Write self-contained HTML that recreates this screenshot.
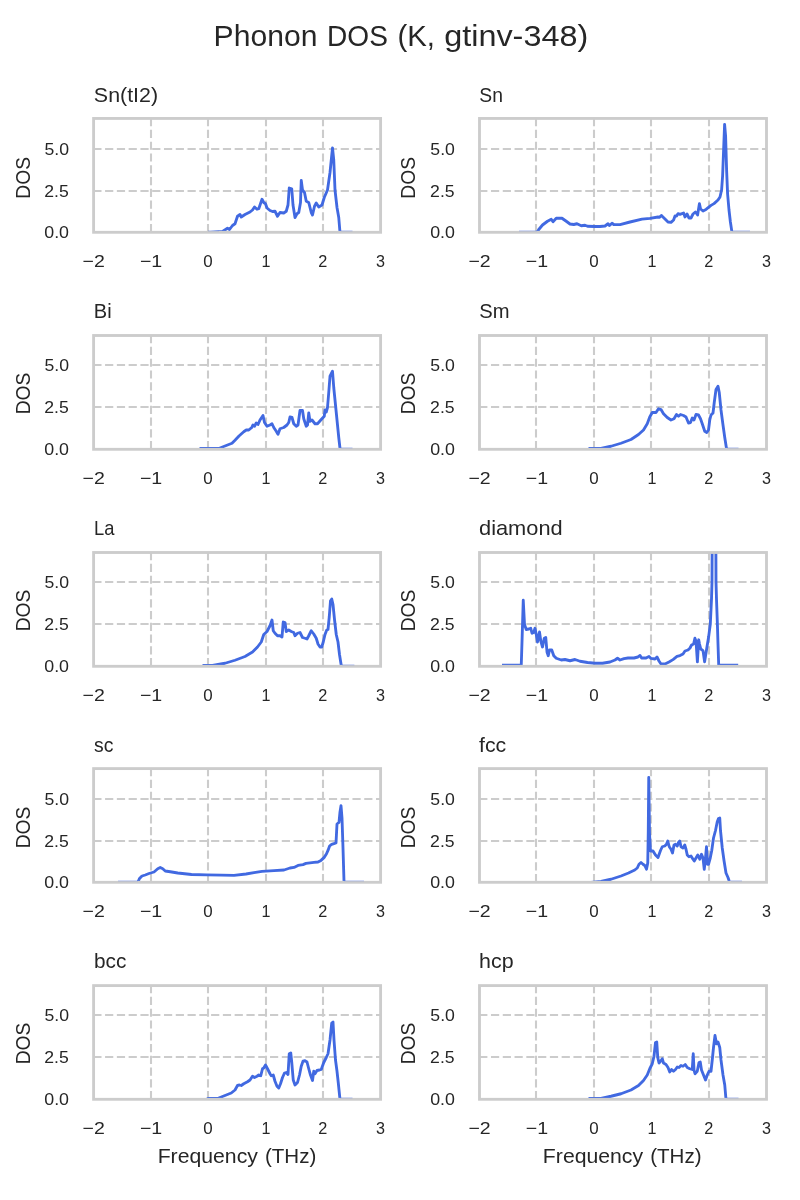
<!DOCTYPE html>
<html lang="en"><head><meta charset="utf-8"><title>Phonon DOS (K, gtinv-348)</title>
<style>html,body{margin:0;padding:0;background:#ffffff;}body{width:800px;height:1200px;overflow:hidden;font-family:"Liberation Sans",sans-serif;}svg{display:block;}text{font-family:"Liberation Sans",sans-serif;fill:#262626;}.g{stroke:#cccccc;stroke-width:2.1;stroke-dasharray:8.2 3.58;fill:none;}.s{stroke:#cccccc;stroke-width:2.85;fill:none;stroke-linecap:square;}.c{stroke:#4169e1;stroke-width:2.85;fill:none;stroke-linejoin:round;stroke-linecap:butt;}.f{stroke:#4169e1;stroke-width:1;opacity:0.33;}</style></head><body>
<svg width="800" height="1200" viewBox="0 0 800 1200">
<rect x="0" y="0" width="800" height="1200" fill="#ffffff"/>
<g opacity="0.999">
<text x="213.64" y="45.7" font-size="29.67" textLength="103.78" lengthAdjust="spacingAndGlyphs">Phonon</text><text x="327.09" y="45.7" font-size="29.67" textLength="60.75" lengthAdjust="spacingAndGlyphs">DOS</text><text x="397.5" y="45.7" font-size="29.67" textLength="37.53" lengthAdjust="spacingAndGlyphs">(K,</text><text x="444.2" y="45.7" font-size="29.67" textLength="144.01" lengthAdjust="spacingAndGlyphs">gtinv-348)</text>
<g>
<clipPath id="cp0"><rect x="93.6" y="118.45" width="287" height="113.85"/></clipPath>
<line class="g" x1="151" y1="232.3" x2="151" y2="118.45"/>
<line class="g" x1="208" y1="232.3" x2="208" y2="118.45"/>
<line class="g" x1="266" y1="232.3" x2="266" y2="118.45"/>
<line class="g" x1="323" y1="232.3" x2="323" y2="118.45"/>
<line class="g" x1="93.3" y1="191" x2="380.6" y2="191"/>
<line class="g" x1="93.3" y1="149" x2="380.6" y2="149"/>
<polyline class="c" clip-path="url(#cp0)" points="208,232.65 222.5,231.5 227.5,228.25 229.5,229.5 232.5,225.5 235,223.75 237.5,216.25 240,214.5 241.25,217 245,214.5 250,212 252.5,210 254.5,207 257,209.25 258.75,208.75 262,199.25 263.75,202.5 265.5,203.75 267,208 270,210.5 272.5,211.5 275,211.25 277.5,216.25 280,212.5 283.75,213 286.25,211.25 288,205 289.25,188 291.75,188.75 293,205 295,217.5 297,213.75 298.75,212.5 300.5,202.5 301.25,180.5 302.5,190 304.5,192.5 306.25,201.25 308.75,202.5 311.25,212.5 312.5,215 314.5,206.25 316.25,203 318.75,207 322,205 324.25,197.5 327.5,190 330,172.5 332.5,148 333.75,160 335,190 337,207.5 338.75,217.5 340,232.65"/>
<rect class="s" x="93.6" y="118.45" width="287" height="113.85"/>
<line class="f" x1="208" y1="230.85" x2="219" y2="230.85"/>
<line class="f" x1="340.5" y1="230.85" x2="352.5" y2="230.85"/>
<text x="93.89" y="101.9" font-size="20.34" textLength="64.19" lengthAdjust="spacingAndGlyphs">Sn(tI2)</text>
<text x="44.28" y="237.65" font-size="16.95" textLength="24.74" lengthAdjust="spacingAndGlyphs">0.0</text>
<text x="44.23" y="196.65" font-size="16.95" textLength="24.51" lengthAdjust="spacingAndGlyphs">2.5</text>
<text x="44.49" y="154.65" font-size="16.95" textLength="24.53" lengthAdjust="spacingAndGlyphs">5.0</text>
<text x="82.51" y="266.9" font-size="16.95" textLength="22.23" lengthAdjust="spacingAndGlyphs">−2</text>
<text x="139.91" y="266.9" font-size="16.95" textLength="22.35" lengthAdjust="spacingAndGlyphs">−1</text>
<text x="203.27" y="266.9" font-size="16.95" textLength="9.41" lengthAdjust="spacingAndGlyphs">0</text>
<text x="261.46" y="266.9" font-size="16.95" textLength="8.95" lengthAdjust="spacingAndGlyphs">1</text>
<text x="318.26" y="266.9" font-size="16.95" textLength="9.05" lengthAdjust="spacingAndGlyphs">2</text>
<text x="376.1" y="266.9" font-size="16.95" textLength="8.99" lengthAdjust="spacingAndGlyphs">3</text>
<text transform="translate(30 177.9) rotate(-90)" x="-20.76" y="0" font-size="20.34" textLength="41.66" lengthAdjust="spacingAndGlyphs">DOS</text>
</g>
<g>
<clipPath id="cp1"><rect x="479.5" y="118.45" width="287" height="113.85"/></clipPath>
<line class="g" x1="536" y1="232.3" x2="536" y2="118.45"/>
<line class="g" x1="594" y1="232.3" x2="594" y2="118.45"/>
<line class="g" x1="651" y1="232.3" x2="651" y2="118.45"/>
<line class="g" x1="709" y1="232.3" x2="709" y2="118.45"/>
<line class="g" x1="479.2" y1="191" x2="766.5" y2="191"/>
<line class="g" x1="479.2" y1="149" x2="766.5" y2="149"/>
<polyline class="c" clip-path="url(#cp1)" points="537,232.65 538.75,229.5 542.5,225 547.5,221.25 551.25,219.25 553,221.75 556.25,218.25 562,218.25 566.25,221.25 570,224 573.75,224.5 577,223.75 581.25,225.75 585,225.25 587.5,226.25 595,226.5 600,226.5 605,226 608,223.75 609.5,225.5 612,223.25 613.75,224.5 620,224.6 630,222 642,219.2 650,218.4 658,217 659.6,217.4 661.4,215.4 665,219 668,222 671,222.4 673.6,220 675,216 676.6,216 678,213.6 680,214.4 683.6,213 685,217 687,214 689,218 691,218 693,214 695.4,212 697.6,215 699.4,203.6 700.6,209 703,211 706,209.4 711,205.4 714,203.6 718,200 720,197 721.6,190 722.6,176 723.6,150 724.6,124.4 725.6,136 726.6,170 727.6,194 729,210 730.4,222 732,232.65"/>
<rect class="s" x="479.5" y="118.45" width="287" height="113.85"/>
<line class="f" x1="519" y1="230.85" x2="537" y2="230.85"/>
<line class="f" x1="732" y1="230.85" x2="750" y2="230.85"/>
<text x="479.28" y="101.9" font-size="20.34" textLength="23.64" lengthAdjust="spacingAndGlyphs">Sn</text>
<text x="430.18" y="237.65" font-size="16.95" textLength="24.74" lengthAdjust="spacingAndGlyphs">0.0</text>
<text x="430.13" y="196.65" font-size="16.95" textLength="24.51" lengthAdjust="spacingAndGlyphs">2.5</text>
<text x="430.39" y="154.65" font-size="16.95" textLength="24.53" lengthAdjust="spacingAndGlyphs">5.0</text>
<text x="468.41" y="266.9" font-size="16.95" textLength="22.23" lengthAdjust="spacingAndGlyphs">−2</text>
<text x="525.81" y="266.9" font-size="16.95" textLength="22.35" lengthAdjust="spacingAndGlyphs">−1</text>
<text x="589.27" y="266.9" font-size="16.95" textLength="9.41" lengthAdjust="spacingAndGlyphs">0</text>
<text x="647.46" y="266.9" font-size="16.95" textLength="8.95" lengthAdjust="spacingAndGlyphs">1</text>
<text x="704.26" y="266.9" font-size="16.95" textLength="9.05" lengthAdjust="spacingAndGlyphs">2</text>
<text x="762" y="266.9" font-size="16.95" textLength="8.99" lengthAdjust="spacingAndGlyphs">3</text>
<text transform="translate(415 177.9) rotate(-90)" x="-20.76" y="0" font-size="20.34" textLength="41.66" lengthAdjust="spacingAndGlyphs">DOS</text>
</g>
<g>
<clipPath id="cp2"><rect x="93.6" y="335.5" width="287" height="113.8"/></clipPath>
<line class="g" x1="151" y1="449.3" x2="151" y2="335.5"/>
<line class="g" x1="208" y1="449.3" x2="208" y2="335.5"/>
<line class="g" x1="266" y1="449.3" x2="266" y2="335.5"/>
<line class="g" x1="323" y1="449.3" x2="323" y2="335.5"/>
<line class="g" x1="93.3" y1="407" x2="380.6" y2="407"/>
<line class="g" x1="93.3" y1="365" x2="380.6" y2="365"/>
<polyline class="c" clip-path="url(#cp2)" points="199.5,448.5 208,448.5 218.75,448.5 225,446 232,443.25 235,440.25 239,436 243.75,431.75 246.25,430 248.75,430 251.75,427.5 253,425 254.5,426.25 256.25,423 258,424.5 260,420 263,415.5 264.5,422.5 267,426.25 270,425 272,423.75 273.75,427.5 276.25,431.25 278,434.25 280,428.75 283.75,427.5 287,425 288.75,422.5 290,417 292,417.5 293.75,423.75 296.25,426.25 298,425 300,410.5 302.5,410.5 303.75,418.75 306.25,426.25 307.5,425 308.75,413 310,421.25 312,420 315,423.75 317.5,423.75 321.25,419.5 324.25,416.25 325,410 326.25,412 327.5,407.5 328.75,392.5 330,376.25 331.25,373.75 332.5,371.25 333.75,387.5 336.25,412.5 338.75,437.5 340,448.5"/>
<rect class="s" x="93.6" y="335.5" width="287" height="113.8"/>
<line class="f" x1="340.5" y1="447.85" x2="352.5" y2="447.85"/>
<text x="93.82" y="317.9" font-size="20.34" textLength="17.82" lengthAdjust="spacingAndGlyphs">Bi</text>
<text x="44.28" y="454.65" font-size="16.95" textLength="24.74" lengthAdjust="spacingAndGlyphs">0.0</text>
<text x="44.23" y="412.65" font-size="16.95" textLength="24.51" lengthAdjust="spacingAndGlyphs">2.5</text>
<text x="44.49" y="370.65" font-size="16.95" textLength="24.53" lengthAdjust="spacingAndGlyphs">5.0</text>
<text x="82.51" y="483.9" font-size="16.95" textLength="22.23" lengthAdjust="spacingAndGlyphs">−2</text>
<text x="139.91" y="483.9" font-size="16.95" textLength="22.35" lengthAdjust="spacingAndGlyphs">−1</text>
<text x="203.27" y="483.9" font-size="16.95" textLength="9.41" lengthAdjust="spacingAndGlyphs">0</text>
<text x="261.46" y="483.9" font-size="16.95" textLength="8.95" lengthAdjust="spacingAndGlyphs">1</text>
<text x="318.26" y="483.9" font-size="16.95" textLength="9.05" lengthAdjust="spacingAndGlyphs">2</text>
<text x="376.1" y="483.9" font-size="16.95" textLength="8.99" lengthAdjust="spacingAndGlyphs">3</text>
<text transform="translate(30 393.6) rotate(-90)" x="-20.76" y="0" font-size="20.34" textLength="41.66" lengthAdjust="spacingAndGlyphs">DOS</text>
</g>
<g>
<clipPath id="cp3"><rect x="479.5" y="335.5" width="287" height="113.8"/></clipPath>
<line class="g" x1="536" y1="449.3" x2="536" y2="335.5"/>
<line class="g" x1="594" y1="449.3" x2="594" y2="335.5"/>
<line class="g" x1="651" y1="449.3" x2="651" y2="335.5"/>
<line class="g" x1="709" y1="449.3" x2="709" y2="335.5"/>
<line class="g" x1="479.2" y1="407" x2="766.5" y2="407"/>
<line class="g" x1="479.2" y1="365" x2="766.5" y2="365"/>
<polyline class="c" clip-path="url(#cp3)" points="588.5,448.5 601,448.5 611,446.25 621,443.25 631,439.5 638.5,434.5 643.5,430 647.25,423.75 649.75,417 652.25,412.5 656,412.5 658.5,408.75 661,409.5 663.5,413.75 667.25,417.5 671,420 674,418.75 676.5,414.5 678.5,416.25 680.5,414.5 683.5,415.5 686,417 688.5,423 690.5,422.5 692.25,418 694,420 696,414.5 698.5,415 700.5,418.75 702.25,423.75 704.75,431.25 706.75,432.5 708.5,430 709.75,420 711,415 713,413 714.25,402.5 716,389.5 718,386.25 719.25,392.5 721,410 723,425 724.75,437.5 726.5,448.5"/>
<rect class="s" x="479.5" y="335.5" width="287" height="113.8"/>
<line class="f" x1="727" y1="447.85" x2="738.5" y2="447.85"/>
<text x="479.24" y="317.9" font-size="20.34" textLength="30.25" lengthAdjust="spacingAndGlyphs">Sm</text>
<text x="430.18" y="454.65" font-size="16.95" textLength="24.74" lengthAdjust="spacingAndGlyphs">0.0</text>
<text x="430.13" y="412.65" font-size="16.95" textLength="24.51" lengthAdjust="spacingAndGlyphs">2.5</text>
<text x="430.39" y="370.65" font-size="16.95" textLength="24.53" lengthAdjust="spacingAndGlyphs">5.0</text>
<text x="468.41" y="483.9" font-size="16.95" textLength="22.23" lengthAdjust="spacingAndGlyphs">−2</text>
<text x="525.81" y="483.9" font-size="16.95" textLength="22.35" lengthAdjust="spacingAndGlyphs">−1</text>
<text x="589.27" y="483.9" font-size="16.95" textLength="9.41" lengthAdjust="spacingAndGlyphs">0</text>
<text x="647.46" y="483.9" font-size="16.95" textLength="8.95" lengthAdjust="spacingAndGlyphs">1</text>
<text x="704.26" y="483.9" font-size="16.95" textLength="9.05" lengthAdjust="spacingAndGlyphs">2</text>
<text x="762" y="483.9" font-size="16.95" textLength="8.99" lengthAdjust="spacingAndGlyphs">3</text>
<text transform="translate(415 393.6) rotate(-90)" x="-20.76" y="0" font-size="20.34" textLength="41.66" lengthAdjust="spacingAndGlyphs">DOS</text>
</g>
<g>
<clipPath id="cp4"><rect x="93.6" y="552.5" width="287" height="113.8"/></clipPath>
<line class="g" x1="151" y1="666.3" x2="151" y2="552.5"/>
<line class="g" x1="208" y1="666.3" x2="208" y2="552.5"/>
<line class="g" x1="266" y1="666.3" x2="266" y2="552.5"/>
<line class="g" x1="323" y1="666.3" x2="323" y2="552.5"/>
<line class="g" x1="93.3" y1="624" x2="380.6" y2="624"/>
<line class="g" x1="93.3" y1="582" x2="380.6" y2="582"/>
<polyline class="c" clip-path="url(#cp4)" points="202.5,665.5 212.5,665.5 225,663.25 235,660.25 245,656.5 252.5,652 257.5,647 261.25,642 263.75,634.5 267,631.5 270,625.75 272,620 273.25,630.75 275,633.25 277.5,635.75 280,635.75 282,637 283.25,622 285,622.5 286.25,631.5 288.75,630 291.25,631.5 293.75,632.5 295,635.75 297.5,633.25 300,632.5 302.5,637.5 305,638.25 307,639 308.75,635.75 311.25,630.75 313.75,634 316.25,638.25 318,644 320,647 321.75,647 323.25,642 325,634.5 326.75,630 328,629.5 329.25,617 330.5,600.75 331.75,599 333,604.5 334.5,619.5 336.25,634.5 338,642 339.5,654.5 341.25,665.5"/>
<rect class="s" x="93.6" y="552.5" width="287" height="113.8"/>
<line class="f" x1="342" y1="664.85" x2="354.4" y2="664.85"/>
<text x="93.96" y="535" font-size="20.34" textLength="20.42" lengthAdjust="spacingAndGlyphs">La</text>
<text x="44.28" y="671.65" font-size="16.95" textLength="24.74" lengthAdjust="spacingAndGlyphs">0.0</text>
<text x="44.23" y="629.65" font-size="16.95" textLength="24.51" lengthAdjust="spacingAndGlyphs">2.5</text>
<text x="44.49" y="587.65" font-size="16.95" textLength="24.53" lengthAdjust="spacingAndGlyphs">5.0</text>
<text x="82.51" y="700.9" font-size="16.95" textLength="22.23" lengthAdjust="spacingAndGlyphs">−2</text>
<text x="139.91" y="700.9" font-size="16.95" textLength="22.35" lengthAdjust="spacingAndGlyphs">−1</text>
<text x="203.27" y="700.9" font-size="16.95" textLength="9.41" lengthAdjust="spacingAndGlyphs">0</text>
<text x="261.46" y="700.9" font-size="16.95" textLength="8.95" lengthAdjust="spacingAndGlyphs">1</text>
<text x="318.26" y="700.9" font-size="16.95" textLength="9.05" lengthAdjust="spacingAndGlyphs">2</text>
<text x="376.1" y="700.9" font-size="16.95" textLength="8.99" lengthAdjust="spacingAndGlyphs">3</text>
<text transform="translate(30 610.6) rotate(-90)" x="-20.76" y="0" font-size="20.34" textLength="41.66" lengthAdjust="spacingAndGlyphs">DOS</text>
</g>
<g>
<clipPath id="cp5"><rect x="479.5" y="552.5" width="287" height="113.8"/></clipPath>
<line class="g" x1="536" y1="666.3" x2="536" y2="552.5"/>
<line class="g" x1="594" y1="666.3" x2="594" y2="552.5"/>
<line class="g" x1="651" y1="666.3" x2="651" y2="552.5"/>
<line class="g" x1="709" y1="666.3" x2="709" y2="552.5"/>
<line class="g" x1="479.2" y1="624" x2="766.5" y2="624"/>
<line class="g" x1="479.2" y1="582" x2="766.5" y2="582"/>
<polyline class="c" clip-path="url(#cp5)" points="502,665.2 521.25,665.2 522,642 523.25,600.25 524.5,624.5 526.25,629.5 528.75,629 530.75,628.25 532,633.25 533.75,632.5 535,628.25 536.25,634.5 537.5,642 539.5,632 540.75,640.75 542.5,647 544.25,638.25 545.75,637.5 547,652 548.25,655.75 549.5,650 551.75,650 553.75,655.75 556.25,658.25 561.25,660 565,659.5 570,660.75 575,659.5 580,661.25 587.5,662.5 595,663.25 602.5,663.25 610,662 615,660 617.5,658.25 620,660 620,660 624,658.6 628,658 634,658 638,657 640,655.4 641.6,658 646,658 649,656.4 651,658.4 655,659 657,657 659,661 661,664 665,664 669,662 673,659.6 677,656.4 680,655.6 683,654 685,651 688,650 690,648 691.6,645 693.6,644 694.9,638.2 696,641 697.4,661.8 698.7,639.8 699.5,644 700.8,649 703,650.6 704.6,661.8 706.8,648 708.6,637.1 710.3,624.1 711.5,599.2 712,581.8 712.1,554 712.3,500 714,300 715.7,500 715.9,554.2 716,581.8 716.5,599.2 717.4,624.1 717.95,642.5 718.7,665.2 738.2,665.2"/>
<rect class="s" x="479.5" y="552.5" width="287" height="113.8"/>
<text x="479.03" y="535" font-size="20.34" textLength="83.62" lengthAdjust="spacingAndGlyphs">diamond</text>
<text x="430.18" y="671.65" font-size="16.95" textLength="24.74" lengthAdjust="spacingAndGlyphs">0.0</text>
<text x="430.13" y="629.65" font-size="16.95" textLength="24.51" lengthAdjust="spacingAndGlyphs">2.5</text>
<text x="430.39" y="587.65" font-size="16.95" textLength="24.53" lengthAdjust="spacingAndGlyphs">5.0</text>
<text x="468.41" y="700.9" font-size="16.95" textLength="22.23" lengthAdjust="spacingAndGlyphs">−2</text>
<text x="525.81" y="700.9" font-size="16.95" textLength="22.35" lengthAdjust="spacingAndGlyphs">−1</text>
<text x="589.27" y="700.9" font-size="16.95" textLength="9.41" lengthAdjust="spacingAndGlyphs">0</text>
<text x="647.46" y="700.9" font-size="16.95" textLength="8.95" lengthAdjust="spacingAndGlyphs">1</text>
<text x="704.26" y="700.9" font-size="16.95" textLength="9.05" lengthAdjust="spacingAndGlyphs">2</text>
<text x="762" y="700.9" font-size="16.95" textLength="8.99" lengthAdjust="spacingAndGlyphs">3</text>
<text transform="translate(415 610.6) rotate(-90)" x="-20.76" y="0" font-size="20.34" textLength="41.66" lengthAdjust="spacingAndGlyphs">DOS</text>
</g>
<g>
<clipPath id="cp6"><rect x="93.6" y="768.6" width="287" height="113.7"/></clipPath>
<line class="g" x1="151" y1="882.3" x2="151" y2="768.6"/>
<line class="g" x1="208" y1="882.3" x2="208" y2="768.6"/>
<line class="g" x1="266" y1="882.3" x2="266" y2="768.6"/>
<line class="g" x1="323" y1="882.3" x2="323" y2="768.6"/>
<line class="g" x1="93.3" y1="841" x2="380.6" y2="841"/>
<line class="g" x1="93.3" y1="799" x2="380.6" y2="799"/>
<polyline class="c" clip-path="url(#cp6)" points="137.75,882.65 139.5,878.5 142,876 145.25,875 149,873.5 154,872 157.75,868.75 160.25,867.5 162.75,868.75 165.25,871 170.25,871.75 177.75,873 191.5,874.5 206.5,874.9 221.5,875.15 234,875.3 246,874 254,872.6 262,871.4 274,870.6 284,870 290,868 294,867.4 298,865.4 303,864.6 306,863.4 310,862.8 314,862.4 318,862 321,860.4 324,857.6 326.4,854 328,850.4 329.6,846 331.6,844.4 334,843.6 336,843 337,824 339,822.4 340,812 341,805.6 342,818 343,848 344,881.5"/>
<rect class="s" x="93.6" y="768.6" width="287" height="113.7"/>
<line class="f" x1="118" y1="880.85" x2="138" y2="880.85"/>
<line class="f" x1="344" y1="880.85" x2="364" y2="880.85"/>
<text x="94.12" y="751.9" font-size="20.34" textLength="19.35" lengthAdjust="spacingAndGlyphs">sc</text>
<text x="44.28" y="887.65" font-size="16.95" textLength="24.74" lengthAdjust="spacingAndGlyphs">0.0</text>
<text x="44.23" y="846.65" font-size="16.95" textLength="24.51" lengthAdjust="spacingAndGlyphs">2.5</text>
<text x="44.49" y="804.65" font-size="16.95" textLength="24.53" lengthAdjust="spacingAndGlyphs">5.0</text>
<text x="82.51" y="916.9" font-size="16.95" textLength="22.23" lengthAdjust="spacingAndGlyphs">−2</text>
<text x="139.91" y="916.9" font-size="16.95" textLength="22.35" lengthAdjust="spacingAndGlyphs">−1</text>
<text x="203.27" y="916.9" font-size="16.95" textLength="9.41" lengthAdjust="spacingAndGlyphs">0</text>
<text x="261.46" y="916.9" font-size="16.95" textLength="8.95" lengthAdjust="spacingAndGlyphs">1</text>
<text x="318.26" y="916.9" font-size="16.95" textLength="9.05" lengthAdjust="spacingAndGlyphs">2</text>
<text x="376.1" y="916.9" font-size="16.95" textLength="8.99" lengthAdjust="spacingAndGlyphs">3</text>
<text transform="translate(30 827.6) rotate(-90)" x="-20.76" y="0" font-size="20.34" textLength="41.66" lengthAdjust="spacingAndGlyphs">DOS</text>
</g>
<g>
<clipPath id="cp7"><rect x="479.5" y="768.6" width="287" height="113.7"/></clipPath>
<line class="g" x1="536" y1="882.3" x2="536" y2="768.6"/>
<line class="g" x1="594" y1="882.3" x2="594" y2="768.6"/>
<line class="g" x1="651" y1="882.3" x2="651" y2="768.6"/>
<line class="g" x1="709" y1="882.3" x2="709" y2="768.6"/>
<line class="g" x1="479.2" y1="841" x2="766.5" y2="841"/>
<line class="g" x1="479.2" y1="799" x2="766.5" y2="799"/>
<polyline class="c" clip-path="url(#cp7)" points="588.5,882.65 601,881.5 611,879.25 621,876 628.5,873 634.75,870 637.25,868 639,864.25 641,862.5 643,864.25 644.75,865.5 646.5,869.25 647.75,863 648.25,833 648.75,777.5 649.5,833 650.5,851 653,851 655.5,855 658,857.5 660.5,850.5 662.25,846.75 664.75,846 666.5,844.25 667.75,841 669.25,846.75 671,849.25 672.5,853 674,845 675.5,844.25 677.25,846 678.5,842.5 679.75,841 681,846.75 683,848 684.75,845 686,849.25 687.25,855 689,856.75 691,856 693,859.25 694.25,861 696,858 697.75,855 699.75,859.25 701.5,854.25 703,858 704.25,869.25 705.5,858 706.5,846.75 707.5,864.25 708.5,864.25 710.25,858 711.75,850.5 713.5,838 715.5,830.5 717.25,821.75 718.5,818.5 719.75,818 720.5,830.5 722.25,848 724,860.5 726,873 728,877.5 729.75,882.65"/>
<rect class="s" x="479.5" y="768.6" width="287" height="113.7"/>
<line class="f" x1="731" y1="880.85" x2="742" y2="880.85"/>
<text x="479.01" y="751.9" font-size="20.34" textLength="27.17" lengthAdjust="spacingAndGlyphs">fcc</text>
<text x="430.18" y="887.65" font-size="16.95" textLength="24.74" lengthAdjust="spacingAndGlyphs">0.0</text>
<text x="430.13" y="846.65" font-size="16.95" textLength="24.51" lengthAdjust="spacingAndGlyphs">2.5</text>
<text x="430.39" y="804.65" font-size="16.95" textLength="24.53" lengthAdjust="spacingAndGlyphs">5.0</text>
<text x="468.41" y="916.9" font-size="16.95" textLength="22.23" lengthAdjust="spacingAndGlyphs">−2</text>
<text x="525.81" y="916.9" font-size="16.95" textLength="22.35" lengthAdjust="spacingAndGlyphs">−1</text>
<text x="589.27" y="916.9" font-size="16.95" textLength="9.41" lengthAdjust="spacingAndGlyphs">0</text>
<text x="647.46" y="916.9" font-size="16.95" textLength="8.95" lengthAdjust="spacingAndGlyphs">1</text>
<text x="704.26" y="916.9" font-size="16.95" textLength="9.05" lengthAdjust="spacingAndGlyphs">2</text>
<text x="762" y="916.9" font-size="16.95" textLength="8.99" lengthAdjust="spacingAndGlyphs">3</text>
<text transform="translate(415 827.6) rotate(-90)" x="-20.76" y="0" font-size="20.34" textLength="41.66" lengthAdjust="spacingAndGlyphs">DOS</text>
</g>
<g>
<clipPath id="cp8"><rect x="93.6" y="985.6" width="287" height="113.7"/></clipPath>
<line class="g" x1="151" y1="1099.3" x2="151" y2="985.6"/>
<line class="g" x1="208" y1="1099.3" x2="208" y2="985.6"/>
<line class="g" x1="266" y1="1099.3" x2="266" y2="985.6"/>
<line class="g" x1="323" y1="1099.3" x2="323" y2="985.6"/>
<line class="g" x1="93.3" y1="1057" x2="380.6" y2="1057"/>
<line class="g" x1="93.3" y1="1015" x2="380.6" y2="1015"/>
<polyline class="c" clip-path="url(#cp8)" points="206,1099.65 208,1098.5 217.5,1098.5 225,1095.5 231.25,1093 235,1090 237.5,1085.5 239.5,1085 241.25,1085.5 243.75,1083.75 247.5,1081.75 250,1080 252.5,1076.25 254.5,1077.5 257,1076.25 258.75,1075 260.75,1075.75 262.5,1068.75 263.75,1068 265.5,1065 267.5,1068.75 270,1073.75 271.25,1075.75 273.25,1075 275,1081.25 277,1086.25 278.75,1088 280.5,1083.75 282.5,1077.5 284.5,1073 286.25,1072.5 288,1074.5 289.25,1053.75 290.75,1053 291.75,1062.5 293.25,1080 295,1085 297.5,1082.5 299.5,1075 301.25,1066.25 303,1061.25 305,1060.75 307,1062 308.75,1068.75 310.5,1075 312.5,1080.5 313.75,1071.25 315,1073.75 317,1070.5 319.5,1070 321.25,1069.5 323.75,1062.5 326.25,1057.5 328,1053.75 330,1040 331.75,1023 333,1022 334,1040 335.5,1060 337,1071.25 338.25,1082.5 340,1099.65"/>
<rect class="s" x="93.6" y="985.6" width="287" height="113.7"/>
<line class="f" x1="340" y1="1097.85" x2="352.5" y2="1097.85"/>
<text x="93.98" y="967.9" font-size="20.34" textLength="32.33" lengthAdjust="spacingAndGlyphs">bcc</text>
<text x="44.28" y="1104.65" font-size="16.95" textLength="24.74" lengthAdjust="spacingAndGlyphs">0.0</text>
<text x="44.23" y="1062.65" font-size="16.95" textLength="24.51" lengthAdjust="spacingAndGlyphs">2.5</text>
<text x="44.49" y="1020.65" font-size="16.95" textLength="24.53" lengthAdjust="spacingAndGlyphs">5.0</text>
<text x="82.51" y="1133.9" font-size="16.95" textLength="22.23" lengthAdjust="spacingAndGlyphs">−2</text>
<text x="139.91" y="1133.9" font-size="16.95" textLength="22.35" lengthAdjust="spacingAndGlyphs">−1</text>
<text x="203.27" y="1133.9" font-size="16.95" textLength="9.41" lengthAdjust="spacingAndGlyphs">0</text>
<text x="261.46" y="1133.9" font-size="16.95" textLength="8.95" lengthAdjust="spacingAndGlyphs">1</text>
<text x="318.26" y="1133.9" font-size="16.95" textLength="9.05" lengthAdjust="spacingAndGlyphs">2</text>
<text x="376.1" y="1133.9" font-size="16.95" textLength="8.99" lengthAdjust="spacingAndGlyphs">3</text>
<text transform="translate(30 1043.6) rotate(-90)" x="-20.76" y="0" font-size="20.34" textLength="41.66" lengthAdjust="spacingAndGlyphs">DOS</text>
<text x="157.66" y="1162.9" font-size="20.34" textLength="100.21" lengthAdjust="spacingAndGlyphs">Frequency</text><text x="264.97" y="1162.9" font-size="20.34" textLength="51.37" lengthAdjust="spacingAndGlyphs">(THz)</text>
</g>
<g>
<clipPath id="cp9"><rect x="479.5" y="985.6" width="287" height="113.7"/></clipPath>
<line class="g" x1="536" y1="1099.3" x2="536" y2="985.6"/>
<line class="g" x1="594" y1="1099.3" x2="594" y2="985.6"/>
<line class="g" x1="651" y1="1099.3" x2="651" y2="985.6"/>
<line class="g" x1="709" y1="1099.3" x2="709" y2="985.6"/>
<line class="g" x1="479.2" y1="1057" x2="766.5" y2="1057"/>
<line class="g" x1="479.2" y1="1015" x2="766.5" y2="1015"/>
<polyline class="c" clip-path="url(#cp9)" points="588.5,1098.5 601,1098.5 611,1096.25 621,1093.75 631,1090 638.5,1085.5 643.5,1080.5 647.25,1075 649.75,1068.75 652.25,1063.75 654,1056.25 655.5,1042.5 656.75,1042 657.75,1057.5 659,1063 660.5,1061.25 662.25,1058.75 663.5,1063 666,1064.5 668,1067.5 669.75,1072 671.5,1069.5 673.5,1071.25 675.5,1069.5 677.25,1067 679,1067.5 681,1065.5 683,1066.25 685.25,1064.5 687.25,1067.5 689.75,1068.75 692.25,1069.5 693.25,1053.75 694,1070 695,1073.75 697.25,1071.25 699,1062.5 700.25,1062 701.5,1070 703.5,1075 705.5,1080 707.25,1075 709,1071.25 711,1071.25 712.25,1060 713.5,1047.5 715,1035.5 716.5,1043.75 718,1042 719.75,1047.5 721,1060 723,1075 724.75,1085 726,1099.65"/>
<rect class="s" x="479.5" y="985.6" width="287" height="113.7"/>
<line class="f" x1="726.5" y1="1097.85" x2="738.5" y2="1097.85"/>
<text x="479.13" y="967.9" font-size="20.34" textLength="34.52" lengthAdjust="spacingAndGlyphs">hcp</text>
<text x="430.18" y="1104.65" font-size="16.95" textLength="24.74" lengthAdjust="spacingAndGlyphs">0.0</text>
<text x="430.13" y="1062.65" font-size="16.95" textLength="24.51" lengthAdjust="spacingAndGlyphs">2.5</text>
<text x="430.39" y="1020.65" font-size="16.95" textLength="24.53" lengthAdjust="spacingAndGlyphs">5.0</text>
<text x="468.41" y="1133.9" font-size="16.95" textLength="22.23" lengthAdjust="spacingAndGlyphs">−2</text>
<text x="525.81" y="1133.9" font-size="16.95" textLength="22.35" lengthAdjust="spacingAndGlyphs">−1</text>
<text x="589.27" y="1133.9" font-size="16.95" textLength="9.41" lengthAdjust="spacingAndGlyphs">0</text>
<text x="647.46" y="1133.9" font-size="16.95" textLength="8.95" lengthAdjust="spacingAndGlyphs">1</text>
<text x="704.26" y="1133.9" font-size="16.95" textLength="9.05" lengthAdjust="spacingAndGlyphs">2</text>
<text x="762" y="1133.9" font-size="16.95" textLength="8.99" lengthAdjust="spacingAndGlyphs">3</text>
<text transform="translate(415 1043.6) rotate(-90)" x="-20.76" y="0" font-size="20.34" textLength="41.66" lengthAdjust="spacingAndGlyphs">DOS</text>
<text x="542.86" y="1162.9" font-size="20.34" textLength="100.21" lengthAdjust="spacingAndGlyphs">Frequency</text><text x="650.17" y="1162.9" font-size="20.34" textLength="51.37" lengthAdjust="spacingAndGlyphs">(THz)</text>
</g>
</g>
</svg></body></html>
